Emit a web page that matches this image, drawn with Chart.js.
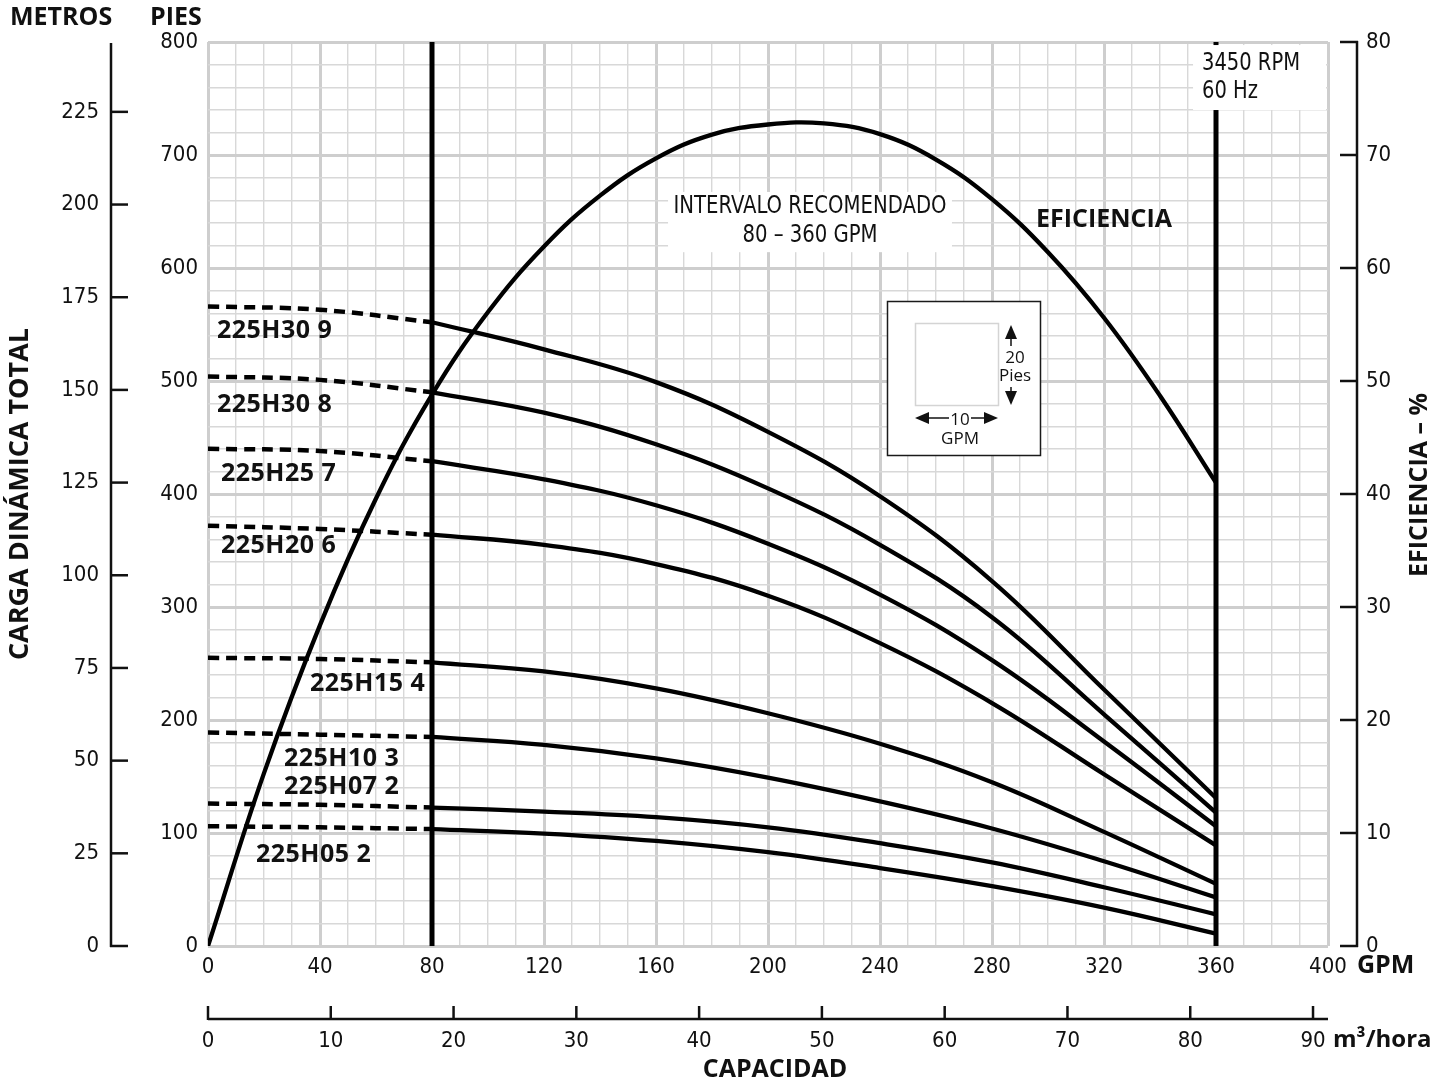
<!DOCTYPE html>
<html>
<head>
<meta charset="utf-8">
<script src="https://cdn.jsdelivr.net/npm/chart.js"></script>
<style>
html,body{margin:0;padding:0;background:#fff;}
canvas{display:block;}
</style>
</head>
<body>
<canvas id="c" width="1453" height="1087"></canvas>
<script>
// ---------------- DATA ----------------
const gpmDash  = [0, 40, 80];
const gpmSolid = [80, 120, 160, 200, 240, 280, 320, 360];

const modelNames = ['225H30 9', '225H30 8', '225H25 7', '225H20 6', '225H15 4', '225H10 3', '225H07 2', '225H05 2'];

const head9Dash  = [566, 563, 552];
const head9      = [552, 528, 499, 455, 398, 323, 227, 131];
const head8Dash  = [504, 501, 490];
const head8      = [490, 472, 444, 405, 355, 291, 205, 118];
const head7Dash  = [440, 438, 429];
const head7      = [429, 413, 390, 356, 311, 253, 181, 106];
const head6Dash  = [372, 369, 364];
const head6      = [364, 355, 338, 310, 268, 215, 152, 89];
const head4Dash  = [255, 254, 251];
const head4      = [251, 243, 228, 206, 179, 145, 101, 55];
const head3Dash  = [189, 187, 185];
const head3      = [185, 178, 166, 149, 128, 104, 75, 43];
const head2Dash  = [126, 125, 122.5];
const head2      = [122.5, 119, 114, 105, 91, 74, 52, 28];
const head05Dash = [106, 105, 103.5];
const head05     = [103.5, 99.5, 93, 83, 69, 53, 34, 11];

const effGpm = [0, 20, 40, 60, 80, 100, 120, 140, 160, 180, 200, 220, 240, 260, 280, 300, 320, 340, 360];
const effPct = [0, 15.3, 28.4, 39.6, 48.8, 56.1, 61.9, 66.4, 69.7, 71.8, 72.7, 72.8, 71.85, 69.6, 66.1, 61.4, 55.6, 48.7, 41.0];

const rangeGpm = [80, 360];          // recommended interval limits
const headRange = [0, 800];          // PIES axis
const effRange = [0, 80];            // EFICIENCIA axis
const gpmRange = [0, 400];
const ftPerMeter = 3.2808;
const gpmPerM3h = 4.385;

// texts
const recText = ['INTERVALO RECOMENDADO', '80 – 360 GPM'];
const rpmText = ['3450 RPM', '60 Hz'];
const effLabel = 'EFICIENCIA';
const keyText = ['20', 'Pies', '10', 'GPM'];

// ---------------- STYLE / PLACEMENT ----------------
const NARROW = "'Liberation Sans Narrow','DejaVu Sans Condensed','Liberation Sans',sans-serif";
const BOLD = "'Open Sans','Noto Sans',sans-serif";

// label anchors in data units (GPM, ft)
const curveLabelPos = [[3.2, 544], [3.2, 479], [4.6, 418], [4.6, 354], [36.4, 232], [27.1, 165.5], [27.1, 140.7], [17.1, 80.5]];
const recBox = {g0: 164.3, g1: 265.7, f0: 614, f1: 667.3, cx: 215, y1: 654, y2: 628.3, w: 273};
const rpmBox = {g0: 351.8, g1: 399.3, f0: 739.8, f1: 797.3, tx: 355, y1: 780.7, y2: 756, w: 98};
const effLabelPos = [320, 642.5];
const keyBox = {g0: 242.5, g1: 297.1, f0: 434.5, f1: 570.8};

Chart.defaults.font.family = NARROW;
Chart.defaults.color = '#111';

function pts(xs, ys) { return xs.map((g, i) => ({x: g, y: ys[i]})); }

const solidSets = [head9, head8, head7, head6, head4, head3, head2, head05];
const dashSets = [head9Dash, head8Dash, head7Dash, head6Dash, head4Dash, head3Dash, head2Dash, head05Dash];

const datasets = [];
solidSets.forEach((arr, i) => {
  datasets.push({label: modelNames[i], data: pts(gpmSolid, arr), borderColor: '#000', borderWidth: 4.3,
    pointRadius: 0, tension: 0.4, fill: false});
  datasets.push({label: modelNames[i] + ' (fuera del intervalo)', data: pts(gpmDash, dashSets[i]), borderColor: '#000',
    borderWidth: 4.5, borderDash: [11, 7], borderCapStyle: 'butt', pointRadius: 0, tension: 0.4, fill: false});
});
datasets.push({label: 'Eficiencia', yAxisID: 'yE', data: pts(effGpm, effPct), borderColor: '#000', borderWidth: 4.3,
  pointRadius: 0, tension: 0.4, fill: false});
rangeGpm.forEach(g => datasets.push({label: 'Límite ' + g + ' GPM', data: [{x: g, y: headRange[0]}, {x: g, y: headRange[1]}],
  borderColor: '#000', borderWidth: 5, pointRadius: 0, fill: false}));

function arrowHead(ctx, x, y, dir) {
  const L = 14, W = 6;
  ctx.beginPath();
  ctx.moveTo(x, y);
  if (dir === 'up') { ctx.lineTo(x - W, y + L); ctx.lineTo(x + W, y + L); }
  if (dir === 'down') { ctx.lineTo(x - W, y - L); ctx.lineTo(x + W, y - L); }
  if (dir === 'left') { ctx.lineTo(x + L, y - W); ctx.lineTo(x + L, y + W); }
  if (dir === 'right') { ctx.lineTo(x - L, y - W); ctx.lineTo(x - L, y + W); }
  ctx.closePath();
  ctx.fill();
}
function line(ctx, x1, y1, x2, y2) { ctx.beginPath(); ctx.moveTo(x1, y1); ctx.lineTo(x2, y2); ctx.stroke(); }
function txt(ctx, s, x, y, font, align, spacing) {
  ctx.font = font; ctx.textAlign = align || 'left'; ctx.textBaseline = 'middle';
  ctx.letterSpacing = spacing || '0px';
  ctx.fillText(s, x, y);
  ctx.letterSpacing = '0px';
}
function txtScaled(ctx, s, x, y, font, align, sx) {
  ctx.save();
  ctx.font = font; ctx.textAlign = align; ctx.textBaseline = 'middle';
  ctx.translate(x, y); ctx.scale(sx, 1);
  ctx.fillText(s, 0, 0);
  ctx.restore();
}

const decor = {
  id: 'decor',
  beforeDatasetsDraw(chart) {
    const {ctx, scales} = chart;
    const X = v => scales.x.getPixelForValue(v), Y = v => scales.y.getPixelForValue(v);
    ctx.save();
    ctx.fillStyle = '#fff';
    ctx.fillRect(X(recBox.g0), Y(recBox.f1), X(recBox.g1) - X(recBox.g0), Y(recBox.f0) - Y(recBox.f1));
    // scale key
    const kx = Math.round(X(keyBox.g0)), ky = Math.round(Y(keyBox.f1));
    const kw = Math.round(X(keyBox.g1)) - kx, kh = Math.round(Y(keyBox.f0)) - ky;
    ctx.fillRect(kx, ky, kw, kh);
    ctx.strokeStyle = '#1a1a1a'; ctx.lineWidth = 1.5;
    ctx.strokeRect(kx + 0.5, ky + 0.5, kw, kh);
    ctx.strokeStyle = '#d4d4d4'; ctx.lineWidth = 1.5;
    ctx.strokeRect(kx + 28.5, ky + 22.5, 83, 82);
    ctx.fillStyle = '#111'; ctx.strokeStyle = '#111'; ctx.lineWidth = 1.5;
    const kf = "17px 'Open Sans',sans-serif";
    arrowHead(ctx, kx + 124, ky + 24, 'up');
    line(ctx, kx + 124, ky + 36, kx + 124, ky + 45);
    line(ctx, kx + 124, ky + 86, kx + 124, ky + 92);
    arrowHead(ctx, kx + 124, ky + 104, 'down');
    txt(ctx, keyText[0], kx + 128, ky + 57, kf, 'center');
    txt(ctx, keyText[1], kx + 128, ky + 75, kf, 'center');
    arrowHead(ctx, kx + 28, ky + 117, 'left');
    line(ctx, kx + 40, ky + 117, kx + 62, ky + 117);
    line(ctx, kx + 84, ky + 117, kx + 99, ky + 117);
    arrowHead(ctx, kx + 111, ky + 117, 'right');
    txt(ctx, keyText[2], kx + 73, ky + 119, kf, 'center');
    txt(ctx, keyText[3], kx + 73, ky + 138, kf, 'center');
    ctx.restore();
  },
  afterDatasetsDraw(chart) {
    const {ctx, scales, chartArea: ca} = chart;
    const X = v => scales.x.getPixelForValue(v), Y = v => scales.y.getPixelForValue(v);
    ctx.save();
    ctx.fillStyle = '#fff';
    ctx.fillRect(X(rpmBox.g0), Y(rpmBox.f1), X(rpmBox.g1) - X(rpmBox.g0), Y(rpmBox.f0) - Y(rpmBox.f1));
    ctx.fillStyle = '#111';
    const nf = '24px ' + NARROW;
    ctx.font = nf;
    const sRpm = rpmBox.w / ctx.measureText(rpmText[0]).width;
    txtScaled(ctx, rpmText[0], X(rpmBox.tx), Y(rpmBox.y1), nf, 'left', sRpm);
    txtScaled(ctx, rpmText[1], X(rpmBox.tx), Y(rpmBox.y2), nf, 'left', sRpm);
    ctx.font = nf;
    const sRec = recBox.w / ctx.measureText(recText[0]).width;
    txtScaled(ctx, recText[0], X(recBox.cx), Y(recBox.y1), nf, 'center', sRec);
    txtScaled(ctx, recText[1], X(recBox.cx), Y(recBox.y2), nf, 'center', sRec);
    txt(ctx, effLabel, X(effLabelPos[0]), Y(effLabelPos[1]), 'bold 25px ' + BOLD, 'center');
    modelNames.forEach((n, i) => {
      txt(ctx, n, X(curveLabelPos[i][0]), Y(curveLabelPos[i][1]), 'bold 25px ' + BOLD, 'left', '0.5px');
    });

    // auxiliary axis lines with tick marks
    ctx.strokeStyle = '#111'; ctx.lineWidth = 2.5;
    const mx = ca.left - 97;
    line(ctx, mx, ca.top + 1, mx, ca.bottom + 1);
    scales.yM.ticks.forEach(t => { const yy = scales.yM.getPixelForValue(t.value); line(ctx, mx - 1, yy, mx + 17, yy); });
    const ex = ca.right + 29;
    line(ctx, ex, ca.top - 1, ex, ca.bottom + 1);
    scales.yE.ticks.forEach(t => { const yy = scales.yE.getPixelForValue(t.value); line(ctx, ex - 17, yy, ex + 1, yy); });
    const my = ca.bottom + 73;
    line(ctx, ca.left, my, ca.right, my);
    scales.x2.ticks.forEach(t => { const xx = scales.x2.getPixelForValue(t.value); line(ctx, xx, my - 13, xx, my + 1); });

    // outer labels
    const bf = 'bold 25px ' + BOLD;
    txt(ctx, 'METROS', 10, 18, bf, 'left');
    txt(ctx, 'PIES', 150, 18, bf, 'left');
    txt(ctx, 'GPM', ca.right + 29, ca.bottom + 20, bf, 'left');
    txt(ctx, 'm³/hora', ca.right + 5, ca.bottom + 94, 'bold 24px ' + BOLD, 'left');
    txt(ctx, 'CAPACIDAD', (ca.left + ca.right) / 2 + 7, ca.bottom + 124, bf, 'center');
    ctx.translate(ca.right + 92, (ca.top + ca.bottom) / 2 - 9);
    ctx.rotate(-Math.PI / 2);
    txt(ctx, 'EFICIENCIA – %', 0, 0, bf, 'center');
    ctx.restore();
  }
};

const majorX = v => v % 40 === 0, majorY = v => v % 100 === 0;
const fitV = w => s => { s.width = w; s.paddingTop = 0; s.paddingBottom = 0; };
const fitH = h => s => { s.height = h; s.paddingLeft = 0; s.paddingRight = 0; };

new Chart(document.getElementById('c'), {
  type: 'line',
  data: {datasets},
  plugins: [decor],
  options: {
    responsive: false,
    animation: false,
    devicePixelRatio: 1,
    layout: {padding: {top: 42, left: 0, right: 0, bottom: 0}, autoPadding: false},
    plugins: {legend: {display: false}, tooltip: {enabled: false}},
    scales: {
      x: {
        type: 'linear', position: 'bottom', min: gpmRange[0], max: gpmRange[1],
        afterFit: fitH(49),
        border: {display: false},
        grid: {drawTicks: false,
          color: c => majorX(c.tick.value) ? 'rgb(206,206,206)' : 'rgb(216,216,216)',
          lineWidth: c => majorX(c.tick.value) ? 3 : 1.4},
        ticks: {stepSize: 10, autoSkip: false, maxRotation: 0, padding: 8, font: {size: 22},
          callback: v => majorX(v) ? String(v) : ''}
      },
      x2: {
        type: 'linear', position: 'bottom', min: 0, max: gpmRange[1] / gpmPerM3h,
        afterFit: fitH(92),
        border: {display: false},
        grid: {display: false, drawTicks: false},
        ticks: {stepSize: 10, includeBounds: false, autoSkip: false, maxRotation: 0, padding: 33, font: {size: 22}}
      },
      y: {
        type: 'linear', position: 'left', min: headRange[0], max: headRange[1],
        afterFit: fitV(90),
        border: {display: false},
        grid: {drawTicks: false,
          color: c => majorY(c.tick.value) ? 'rgb(206,206,206)' : 'rgb(216,216,216)',
          lineWidth: c => majorY(c.tick.value) ? 3 : 1.4},
        ticks: {stepSize: 20, autoSkip: false, padding: 10, font: {size: 22},
          callback: v => majorY(v) ? String(v) : ''}
      },
      yM: {
        type: 'linear', position: 'left', weight: 1, min: 0, max: headRange[1] / ftPerMeter,
        afterFit: fitV(118),
        border: {display: false},
        grid: {display: false, drawTicks: false},
        ticks: {stepSize: 25, includeBounds: false, autoSkip: false, padding: 19, font: {size: 22}},
        title: {display: true, text: 'CARGA DINÁMICA TOTAL', font: {family: BOLD, size: 27, weight: 'bold'}, padding: {top: 4, bottom: 0}}
      },
      yE: {
        type: 'linear', position: 'right', min: effRange[0], max: effRange[1],
        afterFit: fitV(125),
        border: {display: false},
        grid: {display: false, drawTicks: false},
        ticks: {stepSize: 10, autoSkip: false, padding: 38, font: {size: 22}}
      }
    }
  }
});
</script>
</body>
</html>
